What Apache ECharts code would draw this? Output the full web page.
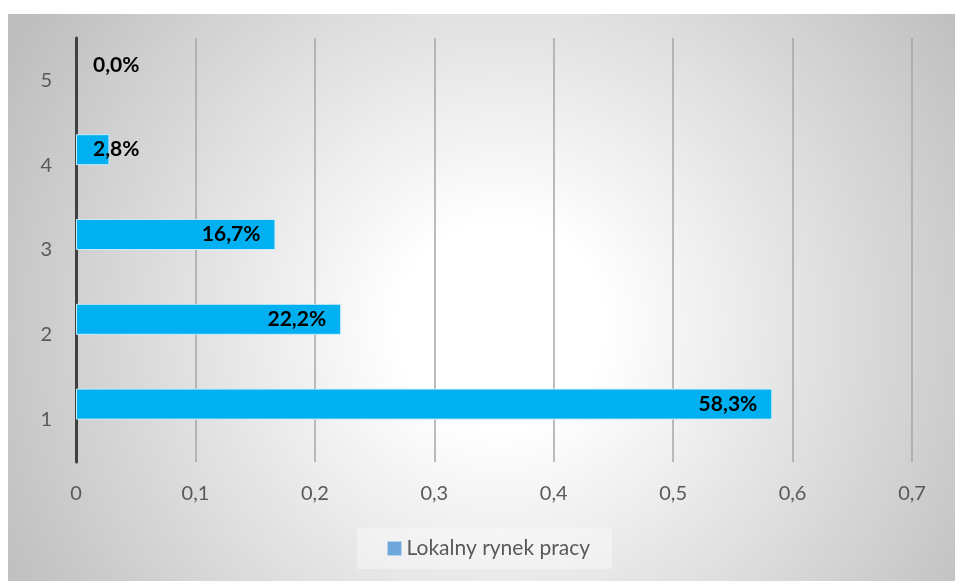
<!DOCTYPE html>
<html>
<head>
<meta charset="utf-8">
<script src="https://cdn.jsdelivr.net/npm/echarts@6/dist/echarts.min.js"></script>
<style>
  html, body { margin: 0; padding: 0; background: #ffffff; }
  #main { position: absolute; left: 8px; top: 14px; width: 947px; height: 567px; }
</style>
</head>
<body>
<div id="main"></div>
<script>
// dane wykresu
var categories = ['1', '2', '3', '4', '5'];
var seriesName = 'Lokalny rynek pracy';
var values = [0.583, 0.222, 0.167, 0.028, 0.0];
var xTicks = [0, 0.1, 0.2, 0.3, 0.4, 0.5, 0.6, 0.7];

var fontName = 'Lato, "Open Sans", sans-serif';

function pct(v) {
	return (v * 100).toFixed(1).replace('.', ',') + '%';
}

// male slupki: etykieta od lewej strony osi (jak w Excelu)
var barData = values.map(function(v) {
	if (v < 0.05) {
		return {
			value: v,
			label: { position: 'insideLeft', distance: 17 },
			itemStyle: v === 0 ? { borderWidth: 0 } : {}
		};
	}
	return v;
});

var chart = echarts.init(document.getElementById('main'));
var option = {
	backgroundColor: {
		type: 'radial', x: 0.52, y: 0.55, r: 1.0,
		colorStops: [
			{ offset: 0, color: '#ffffff' },
			{ offset: 0.18, color: '#ffffff' },
			{ offset: 1, color: '#bdbdbd' }
		]
	},
	textStyle: { fontFamily: fontName },
	animation: false,
	grid: { left: 68, right: 43, top: 24, bottom: 119, containLabel: false },
	legend: {
		data: [{ name: seriesName, itemStyle: { color: '#6fa7dc', borderColor: '#b9d3ee', borderWidth: 1 } }],
		left: 349, top: 514,
		padding: [10, 22, 10, 30],
		backgroundColor: 'rgba(255,255,255,0.35)',
		icon: 'rect', itemWidth: 14, itemHeight: 14,
		textStyle: { color: '#595959', fontSize: 21, fontFamily: fontName }
	},
	xAxis: {
		type: 'value', min: 0, max: 0.7, interval: 0.1,
		axisLine: { show: false },
		axisTick: { show: false },
		splitLine: { show: true, lineStyle: { color: '#a6a6a6', width: 1.5 } },
		axisLabel: {
			color: '#595959', fontSize: 20, margin: 22,
			formatter: function(v) {
				var t = xTicks.filter(function(x) { return Math.abs(x - v) < 1e-9; });
				return t.length ? (v === 0 ? '0' : v.toFixed(1).replace('.', ',')) : '';
			}
		}
	},
	yAxis: {
		type: 'category', data: categories,
		axisLine: { show: true, lineStyle: { color: '#404040', width: 3 } },
		axisTick: { show: false },
		axisLabel: { color: '#595959', fontSize: 20, margin: 24 }
	},
	series: [
		{
			name: seriesName,
			type: 'bar',
			data: barData,
			barWidth: 31,
			barGap: '0%',
			itemStyle: { color: '#00b0f0', borderColor: '#c9ecfb', borderWidth: 1 },
			label: {
				show: true, position: 'insideRight', distance: 15,
				color: '#000000', fontWeight: 'bold', fontSize: 21, fontFamily: fontName,
				formatter: function(p) { return pct(p.value); }
			}
		},
		{
			name: 'pusta',
			type: 'bar',
			data: [null, null, null, null, null],
			barWidth: 31,
			barGap: '0%'
		}
	]
};
chart.setOption(option);
</script>
</body>
</html>
